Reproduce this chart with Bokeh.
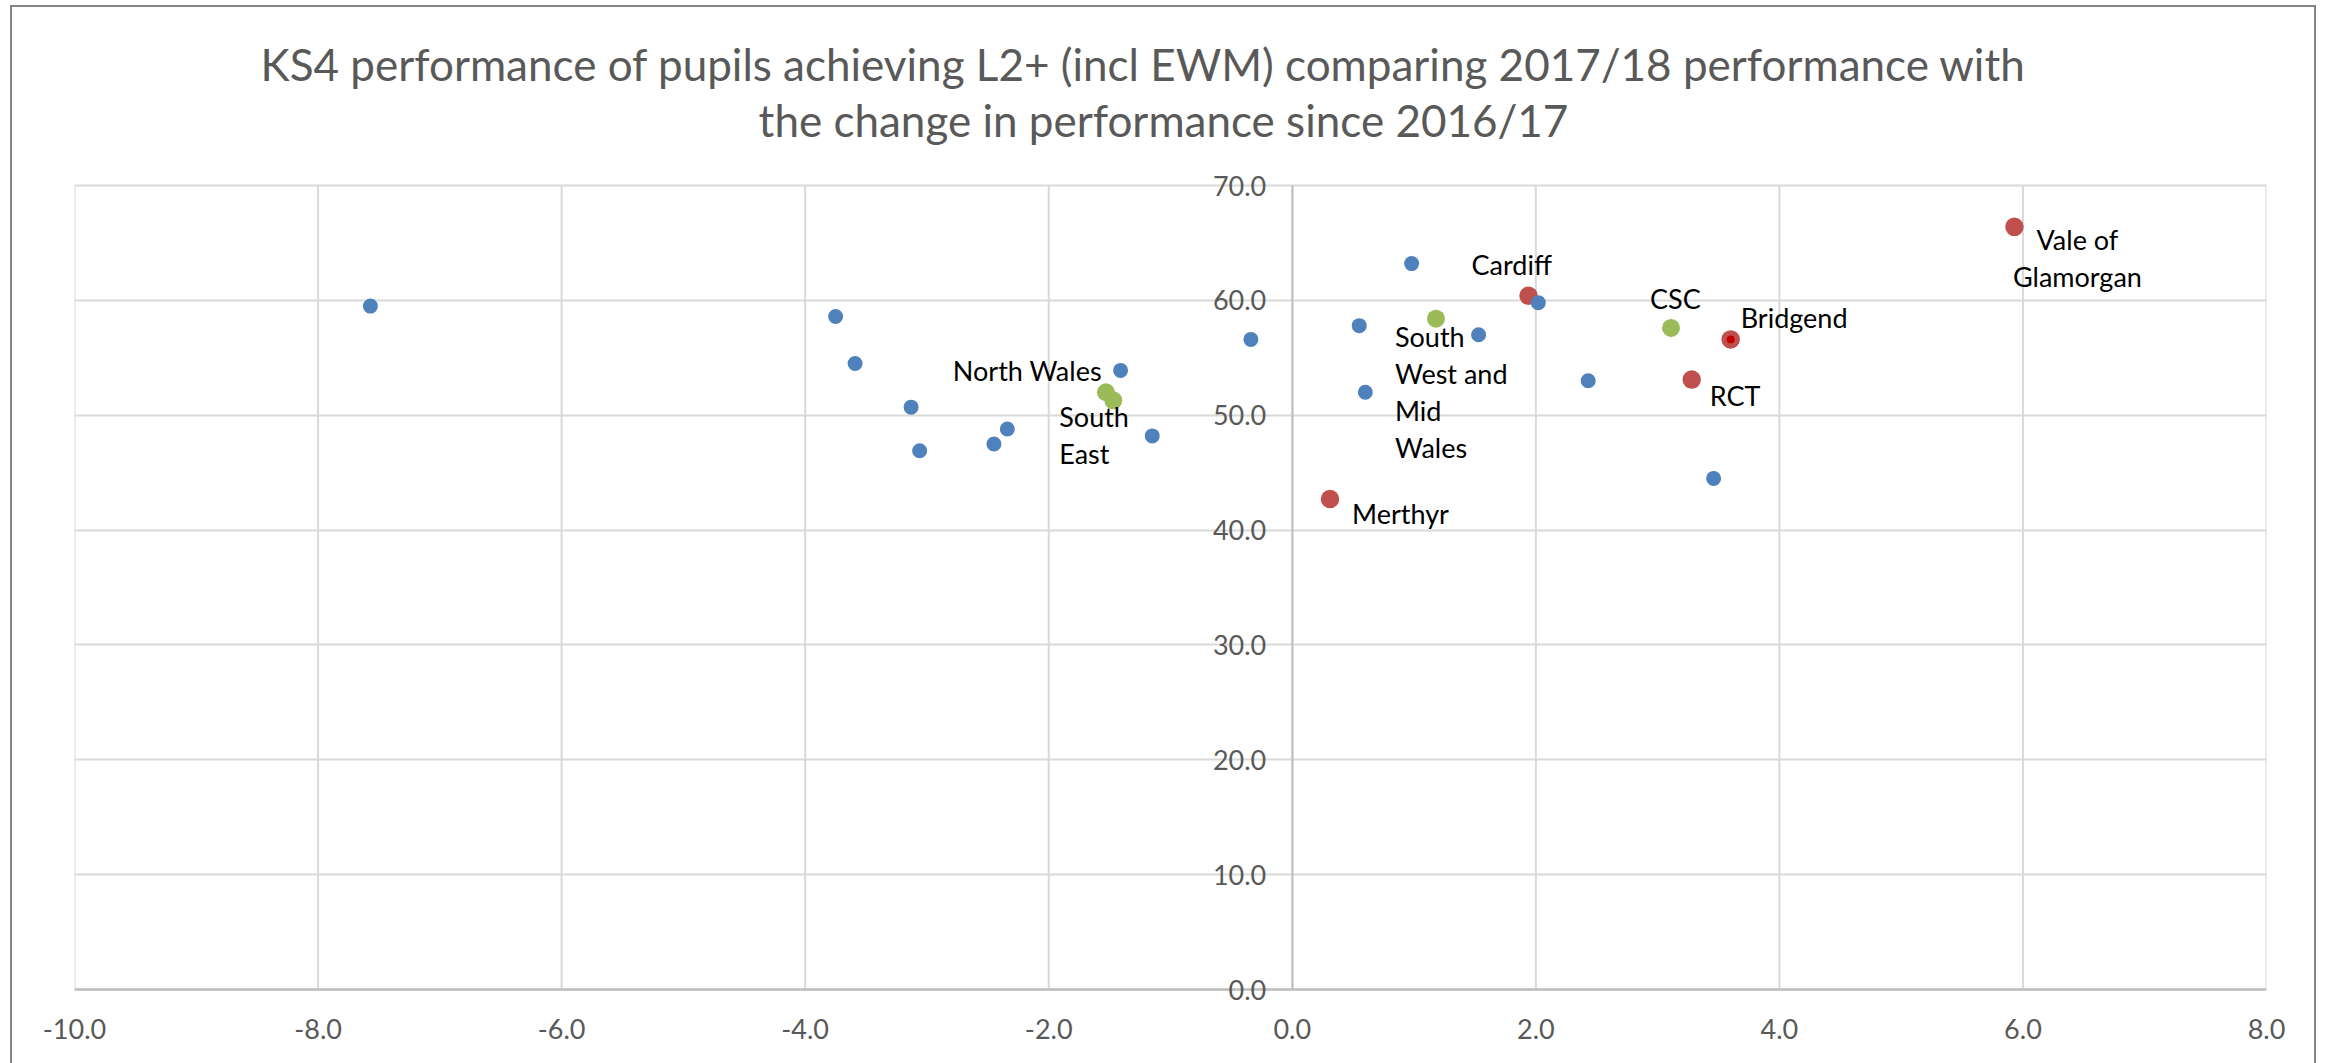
from bokeh.plotting import figure
from bokeh.models import (FixedTicker, NumeralTickFormatter, ColumnDataSource,
                          Range1d, Label, InlineStyleSheet)
from bokeh.core.properties import value
from bokeh.embed import file_html
from bokeh.resources import INLINE

# ---------------- data ----------------
title_lines = [
    "KS4 performance of pupils achieving L2+ (incl EWM) comparing 2017/18 performance with",
    "the change in performance since 2016/17",
]

# other local authorities (unlabelled, blue)
other_change = [-7.57, -3.75, -3.59, -3.13, -3.06, -2.45, -2.34, -1.41, -1.15,
                -0.34, 0.55, 0.60, 0.98, 1.53, 2.02, 2.43, 3.46]
other_perf = [59.5, 58.6, 54.5, 50.7, 46.9, 47.5, 48.8, 53.9, 48.2,
              56.6, 57.8, 52.0, 63.2, 57.0, 59.8, 53.0, 44.5]

# CSC local authorities (labelled, red)
csc_la_names = ["Cardiff", "Bridgend", "RCT", "Vale of\nGlamorgan", "Merthyr"]
csc_la_change = [1.94, 3.60, 3.28, 5.93, 0.31]
csc_la_perf = [60.4, 56.6, 53.1, 66.4, 42.7]

# regional consortia (labelled, green)
region_names = ["North Wales", "South\nEast", "South\nWest and\nMid\nWales", "CSC"]
region_change = [-1.53, -1.47, 1.18, 3.11]
region_perf = [52.0, 51.3, 58.4, 57.6]

# highlighted authority
highlight_name = "Bridgend"

x_ticks = [-10, -8, -6, -4, -2, 0, 2, 4, 6, 8]
y_ticks = [0, 10, 20, 30, 40, 50, 60, 70]

# ---------------- layout / style (not data) ----------------
label_place = {
    "Cardiff": (-57, -31, "left"),
    "Bridgend": (10, -22, "left"),
    "RCT": (18, 16, "left"),
    "Vale of\nGlamorgan": (63, 31, "center"),
    "Merthyr": (22, 14, "left"),
    "North Wales": (-4, -22, "right"),
    "South\nEast": (-54, 35, "left"),
    "South\nWest and\nMid\nWales": (-41, 73, "left"),
    "CSC": (-21, -29, "left"),
}

BLUE = "#4f81bd"
RED = "#c0504d"
GREEN = "#9bbb59"
DARKRED = "#c00000"
GRID = "#d9d9d9"
AXIS = "#bfbfbf"
TXT = "#595959"
FONT = "Lato"

W, H = 2317, 1063
PLOT_L, PLOT_R, PLOT_T, PLOT_B = 74, 2266, 185, 989   # pixel box of the 0..70 / -10..8 area
PAD_B = 24                                             # frame extends a little below y=0
unit = (PLOT_B - PLOT_T) / (y_ticks[-1] - y_ticks[0])
y_lo = y_ticks[0] - PAD_B / unit
y_hi = y_ticks[-1] + PLOT_T / unit

border_css = InlineStyleSheet(css="""
:host::after {
  content: ""; position: absolute; left: 10px; top: 5px; right: 1px; bottom: 0px;
  border-left: 2px solid #858585; border-top: 2px solid #858585; border-right: 2px solid #858585;
  pointer-events: none;
}
""")

p = figure(
    width=W, height=H,
    x_range=Range1d(x_ticks[0], x_ticks[-1]),
    y_range=Range1d(y_lo, y_hi),
    output_backend="svg", toolbar_location=None,
    min_border=0,
    min_border_left=PLOT_L, min_border_right=W - PLOT_R,
    min_border_top=0, min_border_bottom=H - PLOT_B - PAD_B,
)
p.stylesheets = [border_css]
p.outline_line_color = None
p.background_fill_color = "white"
p.border_fill_color = "white"

# title (two centred lines)
p.add_layout(Label(x=1143, y=63, x_units="canvas", y_units="canvas", text=title_lines[0],
                   text_align="center", text_baseline="alphabetic", text_font=FONT,
                   text_font_size="44px", text_color=TXT))
p.add_layout(Label(x=1163, y=119, x_units="canvas", y_units="canvas", text=title_lines[1],
                   text_align="center", text_baseline="alphabetic", text_font=FONT,
                   text_font_size="44px", text_color=TXT))

# grids
p.ygrid.ticker = FixedTicker(ticks=y_ticks)
p.ygrid.grid_line_color = GRID
p.ygrid.grid_line_width = 2
p.xgrid.visible = False
n = len(x_ticks)
p.segment(x0=x_ticks, y0=[y_ticks[0]] * n, x1=x_ticks, y1=[y_ticks[-1]] * n,
          line_color=GRID, line_width=2)
# horizontal axis line at y = 0
p.segment(x0=[x_ticks[0]], y0=[y_ticks[0]], x1=[x_ticks[-1]], y1=[y_ticks[0]],
          line_color=AXIS, line_width=2.5)

# x axis labels (bottom)
p.xaxis.ticker = FixedTicker(ticks=x_ticks)
p.xaxis.formatter = NumeralTickFormatter(format="0.0")
p.xaxis.major_tick_line_color = None
p.xaxis.minor_tick_line_color = None
p.xaxis.major_tick_out = 0
p.xaxis.major_tick_in = 0
p.xaxis.axis_line_color = None
p.xaxis.major_label_text_color = TXT
p.xaxis.major_label_text_font = FONT
p.xaxis.major_label_text_font_size = "27px"
p.xaxis.major_label_standoff = 5

# y axis crossing at x = 0
p.yaxis.fixed_location = 0
p.yaxis.bounds = (y_ticks[0], y_ticks[-1])
p.yaxis.ticker = FixedTicker(ticks=y_ticks)
p.yaxis.formatter = NumeralTickFormatter(format="0.0")
p.yaxis.major_tick_line_color = None
p.yaxis.minor_tick_line_color = None
p.yaxis.major_tick_out = 0
p.yaxis.major_tick_in = 0
p.yaxis.axis_line_color = AXIS
p.yaxis.axis_line_width = 2
p.yaxis.major_label_text_color = TXT
p.yaxis.major_label_text_font = FONT
p.yaxis.major_label_text_font_size = "27px"
p.yaxis.major_label_standoff = 26

# points
p.scatter(csc_la_change, csc_la_perf, size=18.5, fill_color=RED, line_color=None)
p.scatter(other_change, other_perf, size=15, fill_color=BLUE, line_color=None)
p.scatter(region_change, region_perf, size=18, fill_color=GREEN, line_color=None)
hi = csc_la_names.index(highlight_name)
p.scatter([csc_la_change[hi]], [csc_la_perf[hi]], size=8, fill_color=DARKRED, line_color=None)

# data labels
names = csc_la_names + region_names
lx = csc_la_change + region_change
ly = csc_la_perf + region_perf
src = ColumnDataSource(dict(
    x=lx, y=ly, text=names,
    xo=[label_place[k][0] for k in names],
    yo=[label_place[k][1] for k in names],
    al=[label_place[k][2] for k in names],
))
p.text(x="x", y="y", text="text", x_offset="xo", y_offset="yo", text_align="al",
       text_baseline="middle", text_line_height=1.12, source=src,
       text_font=value(FONT), text_font_size="27px", text_color="#000000")

open("out.html", "w").write(file_html(p, INLINE))
